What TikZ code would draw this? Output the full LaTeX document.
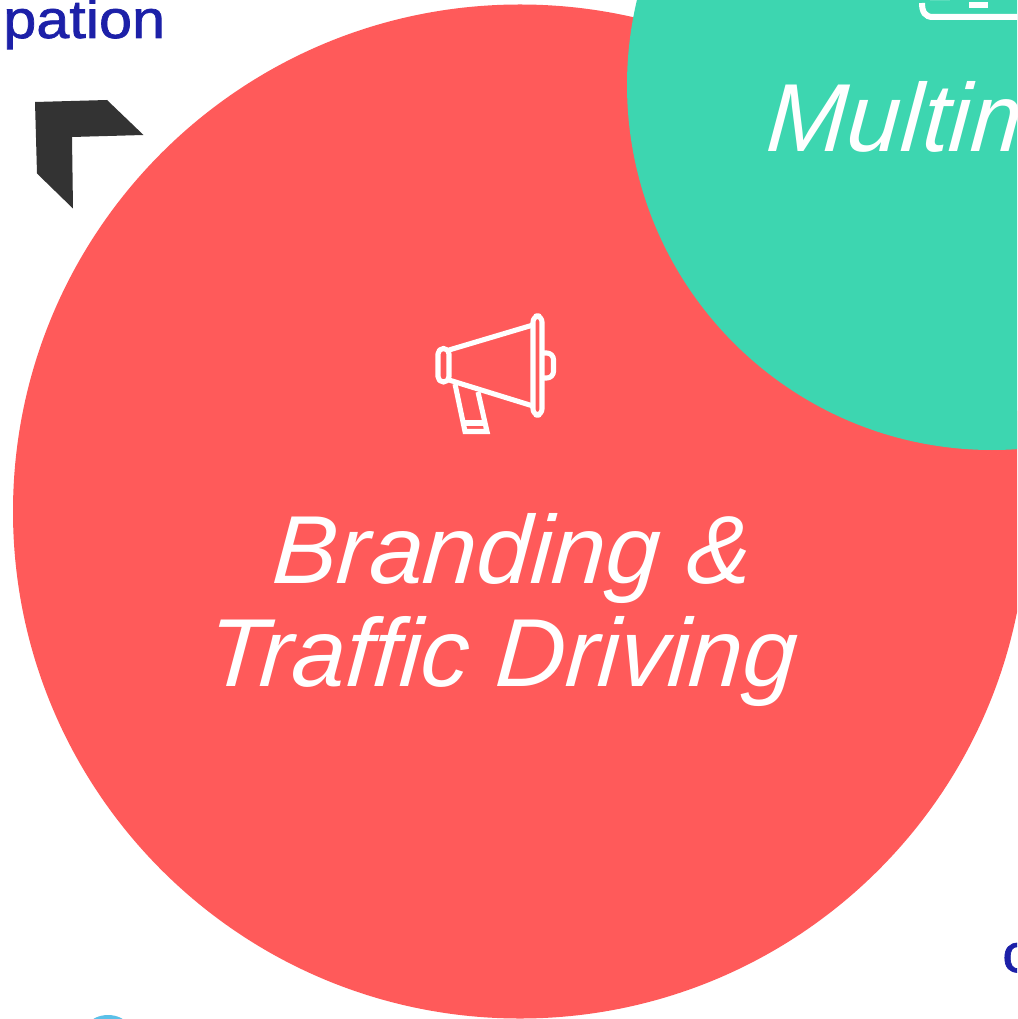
\documentclass[tikz,border=0pt]{standalone}
\usepackage{fontspec}
\setmainfont{Liberation Sans}
\newfontfamily\headfont[FakeBold=1.3,FakeStretch=1.1]{Liberation Sans}
\newfontfamily\slantfont[UprightFont=* Italic,FakeSlant=0.07]{Liberation Sans}
\definecolor{redc}{HTML}{FF5A5A}
\definecolor{tealc}{HTML}{3DD6B0}
\definecolor{bluet}{HTML}{1C20A8}
\definecolor{skyc}{HTML}{5BC0E8}
\definecolor{darkc}{HTML}{333333}
\tikzset{
  px/.style={x=0.75pt,y=-0.75pt},
  iconline/.style={draw=white,line width=3.8pt,line join=round,line cap=butt},
  italiclabel/.style={text=white,font=\slantfont\fontsize{72.5}{77.3}\selectfont,align=center,inner sep=0pt},
  headlabel/.style={text=bluet,font=\headfont\fontsize{40.5}{50}\selectfont,inner sep=0pt,anchor=base west}
}
\begin{document}
\begin{tikzpicture}[px]
\useasboundingbox (0,0) rectangle (1017,1019);
\clip (0,0) rectangle (1017,1019);
\fill[white] (0,0) rectangle (1017,1019);
% circles
\fill[skyc] (108,1045) circle[radius=30];
\fill[redc] (520,511.5) circle[radius=507];
\fill[tealc] (992,85) circle[radius=365];
% chevron
\fill[darkc] (35,102) -- (107,100) -- (143.5,135) -- (72,137) -- (73,208.5) -- (37,173.5) -- cycle;
% megaphone
\draw[iconline,rounded corners=4pt] (438,348.5) rectangle (449,382);
\draw[iconline,rounded corners=4.5pt] (533,316) rectangle (542,415);
\draw[iconline] (449,350) -- (533,325);
\draw[iconline] (449,380) -- (533,406);
\draw[iconline,rounded corners=5pt] (542,353) -- (553.5,353) -- (553.5,378) -- (542,378);
\draw[iconline,line join=miter] (455,384) -- (465,431.5) -- (487,431.5) -- (478,392);
\draw[iconline] (463,423) -- (485,423);
% icon of the teal circle
\draw[draw=white,line width=4.5pt] (922,3) .. controls (922,12) and (925,17) .. (933,17) -- (1020,17);
\fill[white] (969,2) rectangle (988,8);
\fill[white,opacity=.15] (930,-1) rectangle (950,1);
% texts
\node[italiclabel,anchor=base] (brand) at (510.5,583) {Branding \&};
\node[italiclabel,anchor=base] (traffic) at (501,686) {Traffic Driving};
\node[italiclabel,anchor=base west] (multi) at (765,152) {Multimedia};
\node[headlabel] (pation) at (3,38) {pation};
\node[headlabel] (cfrag) at (1002,972) {c};
\end{tikzpicture}
\end{document}
